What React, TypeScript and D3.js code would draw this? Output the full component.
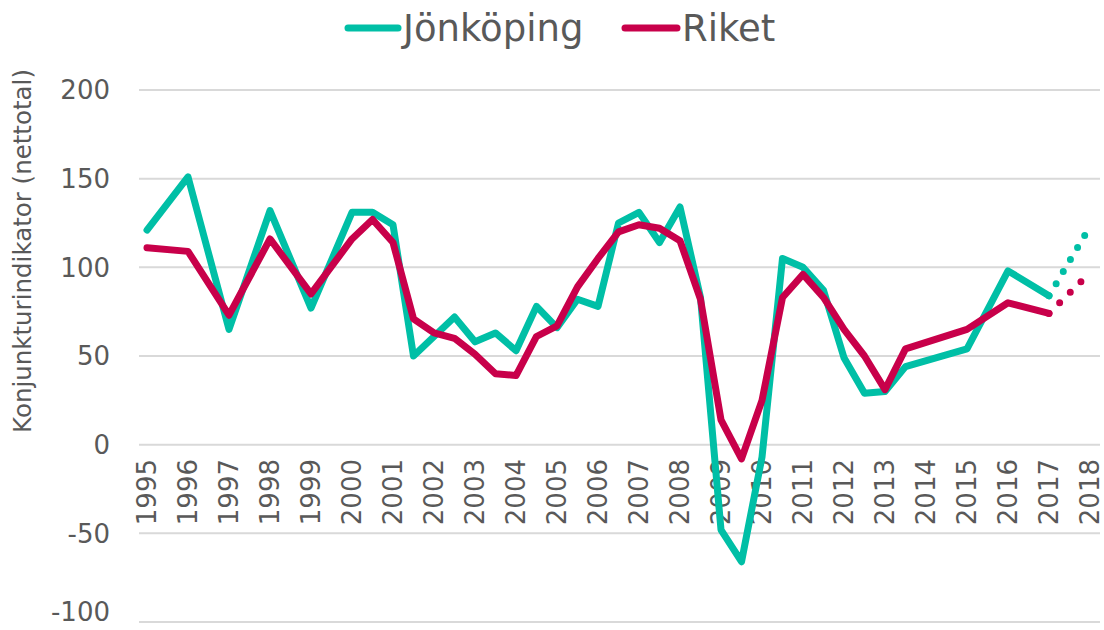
import { scaleLinear, line, range } from 'd3';

// data (half-year points where the chart shows them)
const jkpYears = [1995, 1996, 1997, 1998, 1999, 2000, 2000.5, 2001, 2001.5, 2002, 2002.5, 2003, 2003.5, 2004, 2004.5, 2005, 2005.5, 2006, 2006.5, 2007, 2007.5, 2008, 2008.5, 2009, 2009.5, 2010, 2010.5, 2011, 2011.5, 2012, 2012.5, 2013, 2013.5, 2015, 2016, 2017];
const jkpValues = [121, 151, 65, 132, 77, 131, 131, 124, 50, 61, 72, 58, 63, 53, 78, 66, 82, 78, 125, 131, 114, 134, 83, -48, -66, -7, 105, 100, 87, 49, 29, 30, 44, 54, 98, 84];

const riketYears = [1995, 1996, 1997, 1998, 1999, 2000, 2000.5, 2001, 2001.5, 2002, 2002.5, 2003, 2003.5, 2004, 2004.5, 2005, 2005.5, 2006, 2006.5, 2007, 2007.5, 2008, 2008.5, 2009, 2009.5, 2010, 2010.5, 2011, 2011.5, 2012, 2012.5, 2013, 2013.5, 2015, 2016, 2017];
const riketValues = [111, 109, 73, 116, 85, 116, 127, 114, 71, 63, 60, 51, 40, 39, 61, 67, 89, 105, 120, 124, 122, 115, 82, 14, -8, 25, 83, 96, 83, 65, 50, 31, 54, 65, 80, 74];

// forecast (dotted)
const forecastYears = [2017, 2018];
const jkpForecast = [84, 123];
const riketForecast = [74, 97];

const yTicks = [200, 150, 100, 50, 0, -50, -100];
const yearLabels = range(1995, 2019);

const TEAL = '#00BFA6';
const RED = '#C8004A';
const GREY = '#595959';

const App = () => {
  const x = scaleLinear().domain([1995, 2018]).range([147, 1090]);
  const y = scaleLinear().domain([-100, 200]).range([622, 90]);

  const mk = line<[number, number]>()
    .x((d) => x(d[0]))
    .y((d) => y(d[1]));

  const zip = (a: number[], b: number[]) => a.map((v, i) => [v, b[i]] as [number, number]);

  return (
    <svg width={1104} height={630} style={{ position: 'absolute', left: 0, top: 0 }} fontFamily="DejaVu Sans, sans-serif">
      {/* gridlines */}
      {yTicks.map((t) => (
        <line key={t} x1={139} x2={1100} y1={y(t)} y2={y(t)} stroke="#d9d9d9" strokeWidth={2} />
      ))}
      {/* y tick labels (bottom one nudged up to stay inside the frame) */}
      {yTicks.map((t) => (
        <text key={t} x={110} y={Math.min(y(t), 612)} dy="0.36em" textAnchor="end" fontSize={26} fill={GREY}>
          {t}
        </text>
      ))}
      {/* x labels, rotated */}
      {yearLabels.map((yr) => (
        <text
          key={yr}
          transform={`translate(${x(yr)},459) rotate(-90)`}
          dy="0.34em"
          textAnchor="end"
          fontSize={26}
          fill={GREY}
        >
          {yr}
        </text>
      ))}
      {/* y title */}
      <text transform="translate(22,251) rotate(-90)" dy="0.36em" textAnchor="middle" fontSize={24.5} fill={GREY}>
        Konjunkturindikator (nettotal)
      </text>

      {/* series */}
      <path d={mk(zip(jkpYears, jkpValues)) || ''} fill="none" stroke={TEAL} strokeWidth={7} strokeLinejoin="round" strokeLinecap="round" />
      <path d={mk(zip(riketYears, riketValues)) || ''} fill="none" stroke={RED} strokeWidth={7} strokeLinejoin="round" strokeLinecap="round" />
      <path d={mk(zip(forecastYears, jkpForecast)) || ''} fill="none" stroke={TEAL} strokeWidth={7} strokeLinecap="round" strokeDasharray="0 14" />
      <path d={mk(zip(forecastYears, riketForecast)) || ''} fill="none" stroke={RED} strokeWidth={7} strokeLinecap="round" strokeDasharray="0 15" />

      {/* legend */}
      <line x1={348} x2={398} y1={28} y2={28} stroke={TEAL} strokeWidth={7} strokeLinecap="round" />
      <text x={403} y={41} fontSize={37} fill={GREY}>Jönköping</text>
      <line x1={625} x2={677} y1={28} y2={28} stroke={RED} strokeWidth={7} strokeLinecap="round" />
      <text x={682} y={41} fontSize={37} fill={GREY}>Riket</text>
    </svg>
  );
};

export default App;
